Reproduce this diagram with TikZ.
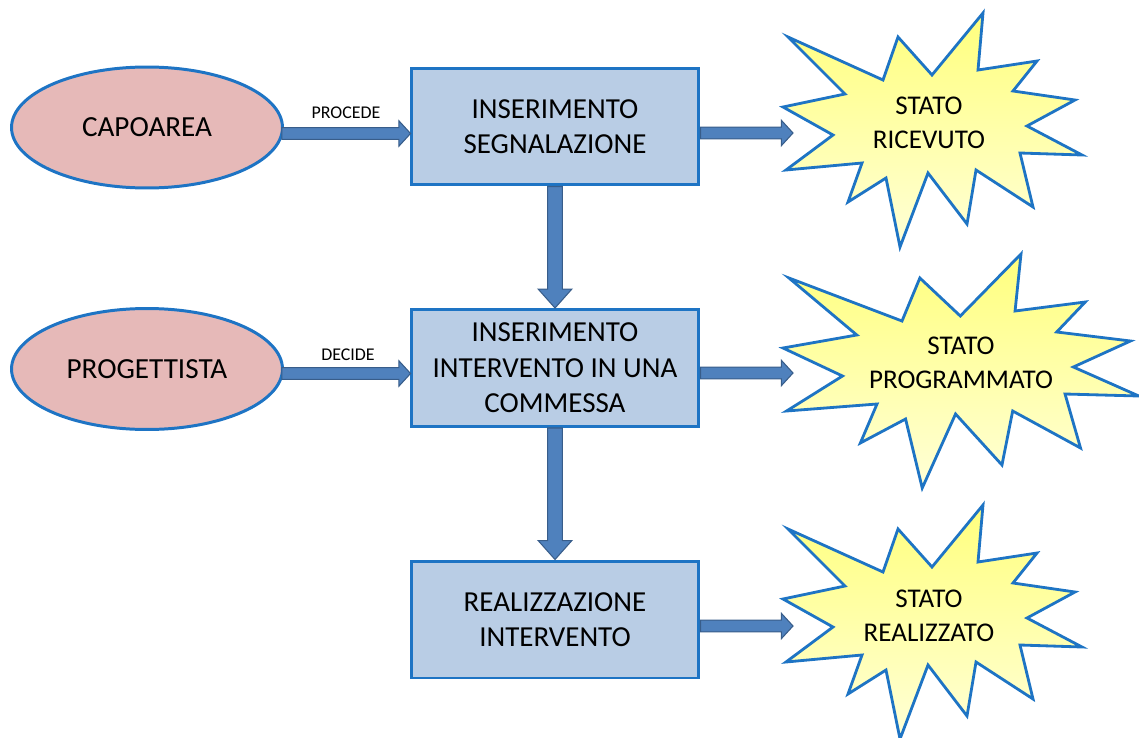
\documentclass[tikz,border=0pt]{standalone}
\usepackage{fontspec}
\setmainfont{Carlito}
\usetikzlibrary{shapes.geometric,calc}

\definecolor{edgeblue}{RGB}{30,116,196}
\definecolor{boxfill}{RGB}{185,205,229}
\definecolor{ovalfill}{RGB}{230,185,184}
\definecolor{arrowfill}{RGB}{79,129,189}
\definecolor{arrowedge}{RGB}{56,93,138}
\definecolor{burstTop}{RGB}{255,255,125}
\definecolor{burstBottom}{RGB}{255,255,215}

% horizontal block arrow from #1 to tip #2 (same height as #1)
\newcommand\hblockarrow[2]{%
  \filldraw[blockarrow] let \p1=(#1), \p2=(#2) in
    (\x1,\y1+3.3pt) -- (\x2-6.6pt,\y1+3.3pt) -- (\x2-6.6pt,\y1+7.2pt) -- (\x2,\y1)
    -- (\x2-6.6pt,\y1-7.2pt) -- (\x2-6.6pt,\y1-3.3pt) -- (\x1,\y1-3.3pt) -- cycle;}
% vertical block arrow going down from #1 to tip #2
\newcommand\vblockarrow[2]{%
  \filldraw[blockarrow] let \p1=(#1), \p2=(#2) in
    (\x1-4.2pt,\y1) -- (\x1+4.2pt,\y1) -- (\x1+4.2pt,\y2+10.8pt) -- (\x1+9.6pt,\y2+10.8pt)
    -- (\x1,\y2) -- (\x1-9.6pt,\y2+10.8pt) -- (\x1-4.2pt,\y2+10.8pt) -- cycle;}

\tikzset{
  actor/.style={ellipse, draw=edgeblue, line width=1.7pt, fill=ovalfill,
    minimum width=5.42cm, minimum height=2.42cm, inner sep=0pt,
    font=\fontsize{16.6}{20}\selectfont},
  stepbox/.style={rectangle, draw=edgeblue, line width=1.7pt, fill=boxfill,
    minimum width=5.76cm, minimum height=2.34cm, inner sep=0pt, align=center,
    font=\fontsize{16.5}{20.2}\selectfont},
  statetext/.style={align=center, inner sep=0pt, font=\fontsize{15.4}{19.2}\selectfont},
  flowlabel/.style={inner sep=0pt, font=\fontsize{10.2}{12}\selectfont},
  blockarrow/.style={fill=arrowfill, draw=arrowedge, line width=0.6pt},
  burst/.pic={
    \shadedraw[top color=burstTop, bottom color=burstBottom, draw=edgeblue,
      line width=1.6pt]
      (200,0) -- (195,57) -- (254,48) -- (230,78) -- (292,87) -- (244,113)
      -- (299,142) -- (237,140) -- (250,194) -- (193,157) -- (184,211)
      -- (145,160) -- (117,234) -- (103,165) -- (65,189) -- (79,150)
      -- (3,157) -- (50,122) -- (0,94) -- (62,81) -- (5,24) -- (100,67)
      -- (115,24) -- (149,62) -- cycle;
  }
}

\begin{document}
\begin{tikzpicture}[x=0.02cm, y=-0.02cm]
  \useasboundingbox (0,0) rectangle (1139,737);

  % status bursts
  \pic at (783,13) {burst};
  \pic[xscale=1.19] at (783,254) {burst};
  \pic at (783,505) {burst};

  \node[statetext] (s1) at (929,123) {STATO\\RICEVUTO};
  \node[statetext] (s2) at (961,363) {STATO\\PROGRAMMATO};
  \node[statetext] (s3) at (929,616) {STATO\\REALIZZATO};

  \coordinate (s1in) at (793,133);
  \coordinate (s2in) at (793,373);
  \coordinate (s3in) at (793,626);

  % actors
  \node[actor] (cap) at (147,127.5) {CAPOAREA};
  \node[actor] (prog) at (147,369) {PROGETTISTA};

  % process steps
  \node[stepbox] (b1) at (555,126.5) {INSERIMENTO\\SEGNALAZIONE};
  \node[stepbox] (b2) at (555,368) {INSERIMENTO\\INTERVENTO IN UNA\\COMMESSA};
  \node[stepbox] (b3) at (555,619.5) {REALIZZAZIONE\\INTERVENTO};

  % connectors
  \hblockarrow{$(cap.east)+(-2,6)$}{$(b1.west)+(1,6)$}
  \hblockarrow{$(prog.east)+(-2,4.5)$}{$(b2.west)+(1,4.5)$}
  \hblockarrow{$(b1.east)+(0,6.5)$}{s1in}
  \hblockarrow{$(b2.east)+(0,5)$}{s2in}
  \hblockarrow{$(b3.east)+(0,6.5)$}{s3in}
  \vblockarrow{b1.south}{b2.north}
  \vblockarrow{b2.south}{b3.north}

  \node[flowlabel] (l1) at (346,113) {PROCEDE};
  \node[flowlabel] (l2) at (348,355) {DECIDE};
\end{tikzpicture}
\end{document}
